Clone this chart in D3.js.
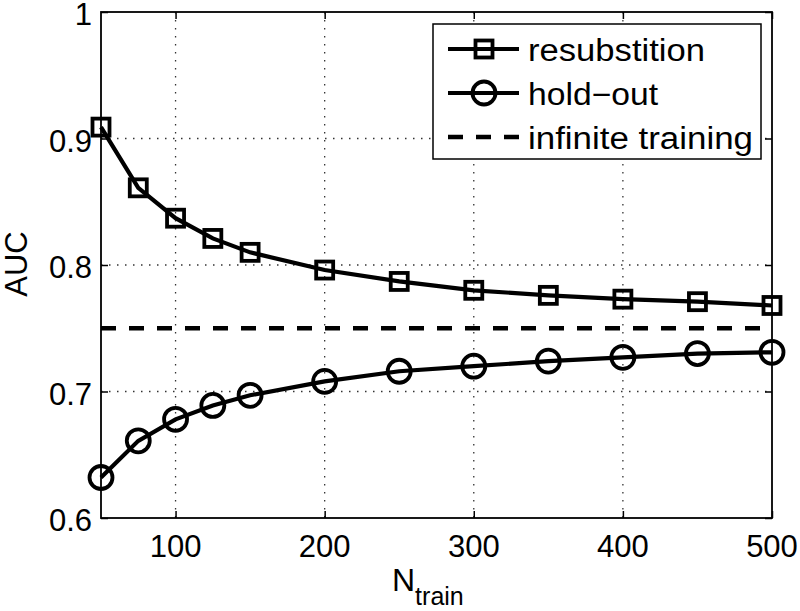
<!DOCTYPE html>
<html><head><meta charset="utf-8">
<script src="https://cdn.jsdelivr.net/npm/d3@7"></script>
<style>body{margin:0;background:#fff}svg{display:block}text{font-family:"Liberation Sans",Arial,sans-serif;fill:#000}</style>
</head><body>
<svg id="c" width="800" height="611"></svg>
<script>
const nTrain = [50,75,100,125,150,200,250,300,350,400,450,500];
const resub = [0.909,0.861,0.837,0.821,0.810,0.796,0.787,0.780,0.776,0.773,0.771,0.768];
const holdout = [0.632,0.661,0.678,0.689,0.697,0.708,0.716,0.720,0.724,0.727,0.730,0.731];
const infinite = 0.75;
const xTicks = [100,200,300,400,500];
const yTicks = [0.6,0.7,0.8,0.9,1];
const legendLabels = ["resubstition","hold\u2212out","infinite training"];

const svg = d3.select("#c");
const L=101, R=772, T=12, B=518;
const x = d3.scaleLinear().domain([50,500]).range([L,R]);
const y = d3.scaleLinear().domain([0.6,1]).range([B,T]);

// grid
const g = svg.append("g");
g.selectAll(".gx").data(xTicks.filter(d=>d<500)).join("line")
  .attr("x1",d=>x(d)).attr("x2",d=>x(d)).attr("y1",T).attr("y2",B)
  .attr("stroke","#333").attr("stroke-width",1.3).attr("stroke-dasharray","1.5,6.5");
g.selectAll(".gy").data(yTicks.filter(d=>d>0.6&&d<1)).join("line")
  .attr("x1",L).attr("x2",R).attr("y1",d=>y(d)).attr("y2",d=>y(d))
  .attr("stroke","#333").attr("stroke-width",1.3).attr("stroke-dasharray","1.5,6.5");

// axes with inward ticks
const tl=7;
svg.append("g").attr("transform",`translate(0,${B})`)
  .call(d3.axisTop(x).tickValues(xTicks).tickSize(tl).tickFormat(""))
  .call(a=>a.select(".domain").remove()).selectAll("line").attr("stroke-width",1.5);
svg.append("g").attr("transform",`translate(0,${T})`)
  .call(d3.axisBottom(x).tickValues(xTicks).tickSize(tl).tickFormat(""))
  .call(a=>a.select(".domain").remove()).selectAll("line").attr("stroke-width",1.5);
svg.append("g").attr("transform",`translate(${L},0)`)
  .call(d3.axisRight(y).tickValues(yTicks).tickSize(tl).tickFormat(""))
  .call(a=>a.select(".domain").remove()).selectAll("line").attr("stroke-width",1.5);
svg.append("g").attr("transform",`translate(${R},0)`)
  .call(d3.axisLeft(y).tickValues(yTicks).tickSize(tl).tickFormat(""))
  .call(a=>a.select(".domain").remove()).selectAll("line").attr("stroke-width",1.5);

svg.append("rect").attr("x",L).attr("y",T).attr("width",R-L).attr("height",B-T)
  .attr("fill","none").attr("stroke","#000").attr("stroke-width",1.8);

// tick labels
svg.selectAll(".xl").data(xTicks).join("text")
  .attr("x",d=>x(d)).attr("y",557).attr("text-anchor","middle")
  .attr("font-size",31).text(d=>d);
svg.selectAll(".yl").data(yTicks).join("text")
  .attr("x",92).attr("y",d=>y(d)+13).attr("text-anchor","end")
  .attr("font-size",31).text(d=>d===1?"1":d.toFixed(1));

// axis labels
const xl = svg.append("text").attr("x",392).attr("y",591).attr("font-size",32);
xl.append("tspan").text("N");
xl.append("tspan").attr("dy",14).attr("font-size",25).text("train");
svg.append("text").attr("transform","translate(27,264) rotate(-90)")
  .attr("text-anchor","middle").attr("font-size",31).text("AUC");

// dashed infinite line
svg.append("line").attr("x1",x(50)).attr("x2",x(500)).attr("y1",y(infinite)).attr("y2",y(infinite))
  .attr("stroke","#000").attr("stroke-width",4.5).attr("stroke-dasharray","15,13");

const line = d3.line().x((d,i)=>x(nTrain[i])).y(d=>y(d));
svg.append("path").datum(resub).attr("d",line).attr("fill","none").attr("stroke","#000").attr("stroke-width",4.2);
svg.append("path").datum(holdout).attr("d",line).attr("fill","none").attr("stroke","#000").attr("stroke-width",4.2);

const sq=17;
svg.selectAll(".sq").data(resub).join("rect")
  .attr("x",(d,i)=>x(nTrain[i])-sq/2).attr("y",d=>y(d)-sq/2).attr("width",sq).attr("height",sq)
  .attr("fill","none").attr("stroke","#000").attr("stroke-width",3.8);
svg.selectAll(".ci").data(holdout).join("circle")
  .attr("cx",(d,i)=>x(nTrain[i])).attr("cy",d=>y(d)).attr("r",11.5)
  .attr("fill","none").attr("stroke","#000").attr("stroke-width",3.8);

// legend
const lg = svg.append("g");
lg.append("rect").attr("x",433).attr("y",24).attr("width",328).attr("height",135)
  .attr("fill","#fff").attr("stroke","#000").attr("stroke-width",1.5);
const rowsY=[49,93,137];
const lenW=[177,130,225];
legendLabels.forEach((lab,i)=>{
  const yy=rowsY[i];
  const ln=lg.append("line").attr("x1",448).attr("x2",519).attr("y1",yy).attr("y2",yy)
    .attr("stroke","#000").attr("stroke-width",4);
  if(i===2) ln.attr("stroke-dasharray","15,13").attr("stroke-width",4.5);
  if(i===0) lg.append("rect").attr("x",484-sq/2).attr("y",yy-sq/2).attr("width",sq).attr("height",sq)
    .attr("fill","none").attr("stroke","#000").attr("stroke-width",3.8);
  if(i===1) lg.append("circle").attr("cx",484).attr("cy",yy).attr("r",11.5)
    .attr("fill","none").attr("stroke","#000").attr("stroke-width",3.8);
  lg.append("text").attr("x",528).attr("y",yy+12).attr("font-size",31)
    .attr("textLength",lenW[i]).attr("lengthAdjust","spacingAndGlyphs").text(lab);
});
</script>
</body></html>
